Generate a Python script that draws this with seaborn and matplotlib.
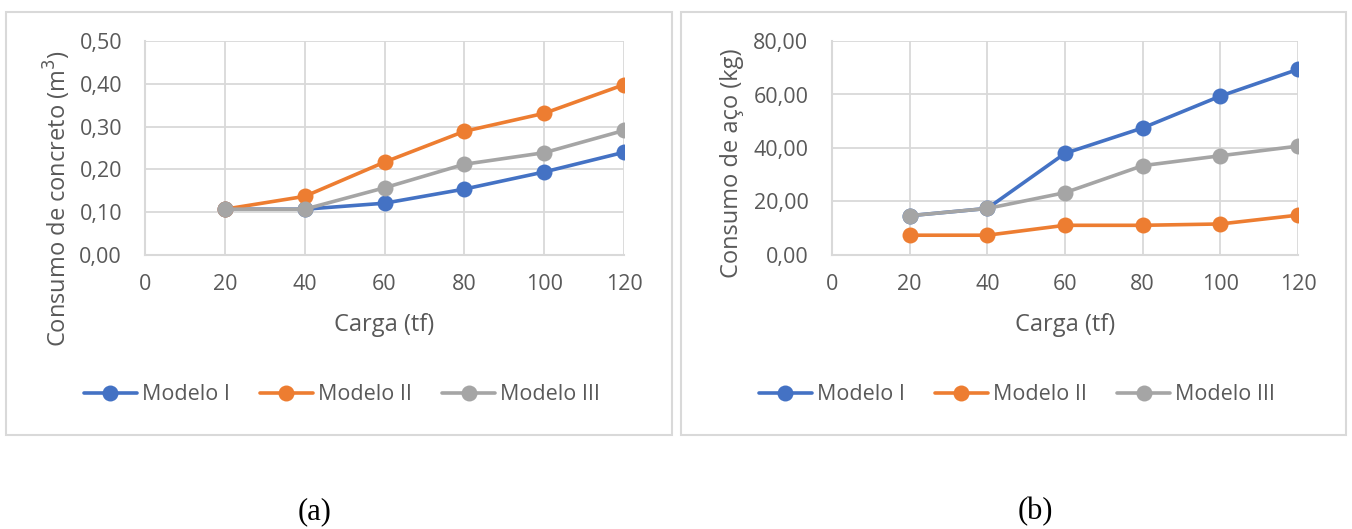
import matplotlib
matplotlib.use("Agg")
import matplotlib.pyplot as plt
from matplotlib.patches import Rectangle
from matplotlib.ticker import FuncFormatter, MultipleLocator
import seaborn as sns
import pandas as pd

# ---- data ----
carga = [20, 40, 60, 80, 100, 120]
series_names = ["Modelo I", "Modelo II", "Modelo III"]
concreto_I = [0.107, 0.107, 0.121, 0.154, 0.194, 0.240]
concreto_II = [0.107, 0.137, 0.217, 0.289, 0.331, 0.398]
concreto_III = [0.107, 0.107, 0.157, 0.212, 0.239, 0.291]
aco_I = [14.7, 17.4, 38.0, 47.5, 59.4, 69.4]
aco_II = [7.4, 7.4, 11.1, 11.1, 11.6, 14.9]
aco_III = [14.7, 17.4, 23.3, 33.4, 37.1, 40.7]

colors = ["#4472C4", "#ED7D31", "#A5A5A5"]
text_color = "#595959"
grid_color = "#D9D9D9"

sns.set_theme(style="white")
plt.rcParams["font.family"] = ["Open Sans", "DejaVu Sans"]

W, H = 1352, 529
fig = plt.figure(figsize=(W / 100, H / 100), dpi=100)


def px_axes(x0, y0, x1, y1):
    return fig.add_axes([x0 / W, 1 - y1 / H, (x1 - x0) / W, (y1 - y0) / H])


def panel(x0, y0, x1, y1):
    fig.patches.append(Rectangle((x0 / W, 1 - y1 / H), (x1 - x0) / W, (y1 - y0) / H,
                                 transform=fig.transFigure, fill=False,
                                 edgecolor=grid_color, linewidth=1.5, zorder=0))


def draw(ax, ys, ylim, ystep, fmt, ylabel, ypad, ylab_xy, xlab_xy):
    df = pd.DataFrame({
        "Carga": carga * 3,
        "valor": [v for s in ys for v in s],
        "serie": [n for n in series_names for _ in carga],
    })
    sns.lineplot(data=df, x="Carga", y="valor", hue="serie", palette=colors,
                 marker="o", markersize=11.5, markeredgewidth=0, linewidth=2.6,
                 ax=ax, legend=False, zorder=3)
    ax.set_xlim(0, 120)
    ax.set_ylim(*ylim)
    ax.xaxis.set_major_locator(MultipleLocator(20))
    ax.yaxis.set_major_locator(MultipleLocator(ystep))
    ax.yaxis.set_major_formatter(FuncFormatter(fmt))
    ax.grid(True, color=grid_color, linewidth=1.3)
    ax.set_axisbelow(True)
    for side in ["top", "right"]:
        ax.spines[side].set_visible(False)
    for side in ["left", "bottom"]:
        ax.spines[side].set_color(grid_color)
        ax.spines[side].set_linewidth(1.5)
    ax.tick_params(axis="both", length=0, labelsize=15.5, labelcolor=text_color)
    ax.tick_params(axis="y", pad=ypad)
    ax.tick_params(axis="x", pad=14)
    ax.set_xlabel("Carga (tf)", fontsize=17, color=text_color)
    ax.set_ylabel(ylabel, fontsize=17, color=text_color)
    ax.yaxis.label.set_va("center")
    ax.xaxis.label.set_va("center")
    ax.yaxis.set_label_coords(*ylab_xy)
    ax.xaxis.set_label_coords(*xlab_xy)
    ax.set_facecolor("white")
    handles = [plt.Line2D([], [], color=c, marker="o", markersize=11.5,
                          markeredgewidth=0, linewidth=2.6) for c in colors]
    return handles


leg_kw = dict(loc="center", ncol=3, frameon=False, fontsize=15.5,
              labelcolor=text_color, handlelength=2.45, columnspacing=1.4,
              handletextpad=0.25)

# panel (a)
panel(6, 12, 672, 435)
ax1 = px_axes(145, 41, 624, 255)
h = draw(ax1, [concreto_I, concreto_II, concreto_III], (0, 0.5), 0.1,
         lambda v, p: f"{v:.2f}".replace(".", ","), "Consumo de concreto (m$^3$)",
         16.5, ((57 - 145) / 479, (255 - 199) / 214), (0.5, (255 - 325) / 214))
fig.legend(h, series_names, bbox_to_anchor=(342 / W, 1 - 395 / H), **leg_kw)

# panel (b)
panel(681, 12, 1346, 435)
ax2 = px_axes(832, 41, 1298, 255)
h = draw(ax2, [aco_I, aco_II, aco_III], (0, 80), 20,
         lambda v, p: f"{v:.2f}".replace(".", ","), "Consumo de aço (kg)",
         17, ((732 - 832) / 466, (255 - 163) / 214), (0.5, (255 - 325) / 214))
fig.legend(h, series_names, bbox_to_anchor=(1017 / W, 1 - 395 / H), **leg_kw)

# captions
fig.text(315 / W, 1 - 512 / H, "(a)", ha="center", va="center", fontsize=22,
         family=["Liberation Serif", "DejaVu Serif"], color="black")
fig.text(1035 / W, 1 - 512 / H, "(b)", ha="center", va="center", fontsize=22,
         family=["Liberation Serif", "DejaVu Serif"], color="black")

fig.savefig("out.png", dpi=100, facecolor="white")
